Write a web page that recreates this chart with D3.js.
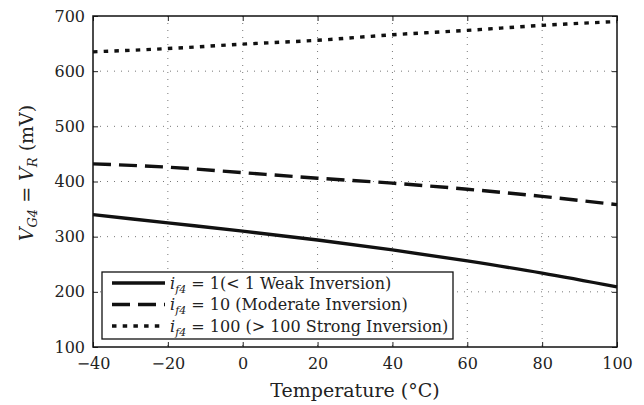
<!DOCTYPE html>
<html lang="en">
<head>
<meta charset="utf-8">
<title>Reference voltage vs temperature</title>
<script src="https://cdn.jsdelivr.net/npm/d3@7"></script>
<style>
  body { margin: 0; background: #fff; }
  svg text { font-family: "DejaVu Serif", serif; fill: #222; }
</style>
</head>
<body>
<script>
// temperature sweep (°C)
var temps = [-40, -20, 0, 20, 40, 60, 80, 100];
// V_G4 = V_R in mV for each inversion level
var weak = [340, 325, 310, 294, 276, 256, 234, 209];
var moderate = [432, 426, 416, 406, 397, 386, 373, 358];
var strong = [635, 641, 649, 656, 666, 674, 683, 690];

var xTicks = [-40, -20, 0, 20, 40, 60, 80, 100];
var yTicks = [100, 200, 300, 400, 500, 600, 700];

var w = 644, h = 405;
var pl = 93, pr = 617, pt = 16, pb = 347;
var serif = "'DejaVu Serif', serif";

var svg = d3.select("body").append("svg")
  .attr("width", w).attr("height", h);

var x = d3.scaleLinear().domain([-40, 100]).range([pl, pr]);
var y = d3.scaleLinear().domain([100, 700]).range([pb, pt]);

// dotted grid
svg.append("g").selectAll("line").data(xTicks.slice(1, -1)).enter().append("line")
  .attr("x1", function(d) { return x(d); }).attr("x2", function(d) { return x(d); })
  .attr("y1", pt).attr("y2", pb)
  .attr("stroke", "#777").attr("stroke-width", 1).attr("stroke-dasharray", "1,6");
svg.append("g").selectAll("line").data(yTicks.slice(1, -1)).enter().append("line")
  .attr("y1", function(d) { return y(d); }).attr("y2", function(d) { return y(d); })
  .attr("x1", pl).attr("x2", pr)
  .attr("stroke", "#777").attr("stroke-width", 1).attr("stroke-dasharray", "1,6");

// axes with inward ticks on all four sides
var fmt = function(d) { return d < 0 ? "\u2212" + Math.abs(d) : d; };
var gx = svg.append("g").attr("transform", "translate(0," + pb + ")")
  .call(d3.axisBottom(x).tickValues(xTicks).tickSizeInner(-5).tickSizeOuter(0).tickPadding(8).tickFormat(fmt));
var gxt = svg.append("g").attr("transform", "translate(0," + pt + ")")
  .call(d3.axisTop(x).tickValues(xTicks).tickSizeInner(-5).tickSizeOuter(0).tickFormat(""));
var gy = svg.append("g").attr("transform", "translate(" + pl + ",0)")
  .call(d3.axisLeft(y).tickValues(yTicks).tickSizeInner(-5).tickSizeOuter(0).tickPadding(8));
var gyr = svg.append("g").attr("transform", "translate(" + pr + ",0)")
  .call(d3.axisRight(y).tickValues(yTicks).tickSizeInner(-5).tickSizeOuter(0).tickFormat(""));
[gx, gxt, gy, gyr].forEach(function(g) {
  g.attr("font-family", serif);
  g.select(".domain").remove();
  g.selectAll(".tick line").attr("stroke", "#222");
  g.selectAll(".tick text").attr("font-size", 16).attr("fill", "#222");
});
gx.selectAll(".tick text").attr("dy", "0.9em");

// frame
svg.append("rect").attr("x", pl).attr("y", pt)
  .attr("width", pr - pl).attr("height", pb - pt)
  .attr("fill", "none").attr("stroke", "#111").attr("stroke-width", 1.5);

var series = [
  { name: "weak", values: weak, dash: null },
  { name: "moderate", values: moderate, dash: "18,8" },
  { name: "strong", values: strong, dash: "4.5,6.2" }
];

var line = d3.line()
  .x(function(d) { return x(d[0]); })
  .y(function(d) { return y(d[1]); })
  .curve(d3.curveMonotoneX);

svg.append("g").selectAll("path").data(series).enter().append("path")
  .attr("d", function(s) { return line(d3.zip(temps, s.values)); })
  .attr("fill", "none").attr("stroke", "#111").attr("stroke-width", 3.4)
  .attr("stroke-dasharray", function(s) { return s.dash; });

// legend
var lg = svg.append("g").attr("font-family", serif);
lg.append("rect").attr("x", 102).attr("y", 272).attr("width", 351).attr("height", 67)
  .attr("fill", "#fff").attr("stroke", "#111").attr("stroke-width", 1.3);
var labels = [
  "1(< 1 Weak Inversion)",
  "10 (Moderate Inversion)",
  "100 (> 100 Strong Inversion)"
];
series.forEach(function(s, i) {
  var yy = 283 + i * 21.5;
  lg.append("line").attr("x1", 112).attr("x2", 165).attr("y1", yy).attr("y2", yy)
    .attr("stroke", "#111").attr("stroke-width", 3.4)
    .attr("stroke-dasharray", s.dash);
  var t = lg.append("text").attr("x", 170).attr("y", yy + 5.5).attr("font-size", 16);
  t.append("tspan").attr("font-style", "italic").text("i");
  t.append("tspan").attr("font-style", "italic").attr("font-size", 11).attr("dy", 4).text("f4");
  t.append("tspan").attr("dy", -4).text(" = " + labels[i]);
});

// axis titles
svg.append("text").attr("x", (pl + pr) / 2).attr("y", 397).attr("font-family", serif)
  .attr("text-anchor", "middle").attr("font-size", 19).text("Temperature (\u00B0C)");

var yl = svg.append("text").attr("transform", "translate(33,173) rotate(-90)")
  .attr("font-family", serif).attr("text-anchor", "middle").attr("font-size", 19);
yl.append("tspan").attr("font-style", "italic").text("V");
yl.append("tspan").attr("font-style", "italic").attr("font-size", 13).attr("dy", 4).text("G4");
yl.append("tspan").attr("dy", -4).text(" = ");
yl.append("tspan").attr("font-style", "italic").text("V");
yl.append("tspan").attr("font-style", "italic").attr("font-size", 13).attr("dy", 4).text("R");
yl.append("tspan").attr("dy", -4).text(" (mV)");
</script>
</body>
</html>
